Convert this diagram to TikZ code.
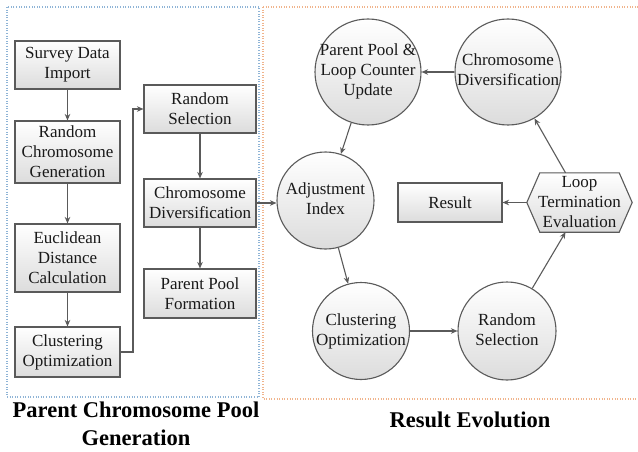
\documentclass[tikz,border=0pt]{standalone}
\usepackage{fontspec}
\setmainfont{Liberation Serif}
\usetikzlibrary{arrows.meta,calc,backgrounds}
\definecolor{linec}{HTML}{5A5A5A}
\definecolor{fillg}{HTML}{DCDCDC}
\definecolor{frameblue}{HTML}{8FB4D6}
\definecolor{frameorange}{HTML}{F0B48C}
\newcommand{\ctx}[1]{\makebox[0pt]{\begin{tabular}{@{}c@{}}#1\end{tabular}}}
\begin{document}
\begin{tikzpicture}[x=1pt,y=-1pt,
  txt/.style={font=\fontsize{17}{20}\selectfont, text=black!90},
  rbox/.style={txt, draw=linec, line width=1.1pt, top color=white, bottom color=fillg, align=center, inner sep=0pt},
  cnode/.style={txt, circle, draw=linec, line width=1.1pt, top color=white, bottom color=fillg, inner sep=0pt, minimum size=#1},
  arr/.style={draw=linec, line width=1.1pt, -{Stealth[length=6.5pt,width=5.5pt]}},
  frame/.style={line width=1.2pt, dash pattern=on 1pt off 1.6pt},
  title/.style={font=\fontsize{22.5}{28}\selectfont\bfseries, align=center}]
\useasboundingbox (0,0) rectangle (638,452);
% frames
\draw[frame, frameblue] (7,7) rectangle (259,397);
\draw[frame, frameorange] (263,7) -- (640,7) (263,7) -- (263,399) -- (640,399);
% left column
\node[rbox, minimum width=105, minimum height=48] (sdi) at (67.5,65) {Survey Data\\Import};
\node[rbox, minimum width=105, minimum height=62] (rcg) at (67.5,152) {Random\\Chromosome\\Generation};
\node[rbox, minimum width=105, minimum height=68] (edc) at (67.5,258) {Euclidean\\Distance\\Calculation};
\node[rbox, minimum width=105, minimum height=50] (lco) at (67.5,352) {Clustering\\Optimization};
\node[rbox, minimum width=112, minimum height=48] (lrs) at (200,109) {Random\\Selection};
\node[rbox, minimum width=112, minimum height=48] (lcd) at (200,203) {Chromosome\\Diversification};
\node[rbox, minimum width=112, minimum height=49] (ppf) at (200,293.5) {Parent Pool\\Formation};
\coordinate (bend1) at (133,352);
\coordinate (bend2) at (133,109);
\draw[arr] (sdi) -- (rcg);
\draw[arr] (rcg) -- (edc);
\draw[arr] (edc) -- (lco);
\draw[arr] (lco.east) -- (bend1) -- (bend2) -- (lrs.west);
\draw[arr] (lrs) -- (lcd);
\draw[arr] (lcd) -- (ppf);
% right side
\node[cnode=106] (ppu) at (368,72) {\ctx{Parent Pool \&\\Loop Counter\\Update}};
\node[cnode=106] (rcd) at (508,72) {\ctx{Chromosome\\Diversification}};
\node[cnode=97] (adj) at (325.5,200.5) {\ctx{Adjustment\\Index}};
\node[cnode=97] (rco) at (361,331) {\ctx{Clustering\\Optimization}};
\node[cnode=98] (rrs) at (507,331) {\ctx{Random\\Selection}};
\node[rbox, minimum width=104, minimum height=39] (res) at (450,202.5) {Result};
\node[txt, align=center, inner sep=0pt, minimum width=105, minimum height=59] (hex) at (579.5,202.5) {Loop\\Termination\\Evaluation};
\begin{scope}[on background layer]
\path[draw=linec, line width=1.1pt, top color=white, bottom color=fillg]
  (hex.west) -- ($(hex.north west)+(13,0)$) -- ($(hex.north east)+(-13,0)$) -- (hex.east)
  -- ($(hex.south east)+(-13,0)$) -- ($(hex.south west)+(13,0)$) -- cycle;
\end{scope}
\draw[arr] (lcd.east) -- (lcd.east -| adj.west);
\draw[arr] (rcd) -- (ppu);
\draw[arr] (ppu) -- (adj);
\draw[arr] (adj) -- (rco);
\draw[arr] (rco) -- (rrs);
\coordinate (hexbot) at ($(hex.south)+(-14,0)$);
\coordinate (hextop) at ($(hex.north)+(-14,0)$);
\draw[arr] (rrs) -- (hexbot);
\draw[arr] (hextop) -- (rcd);
\draw[arr] (hex.west) -- (res.east);
% titles
\node[title] (t1) at (136,424) {Parent Chromosome Pool\\Generation};
\node[title] (t2) at (470,420) {Result Evolution};
\end{tikzpicture}
\end{document}
